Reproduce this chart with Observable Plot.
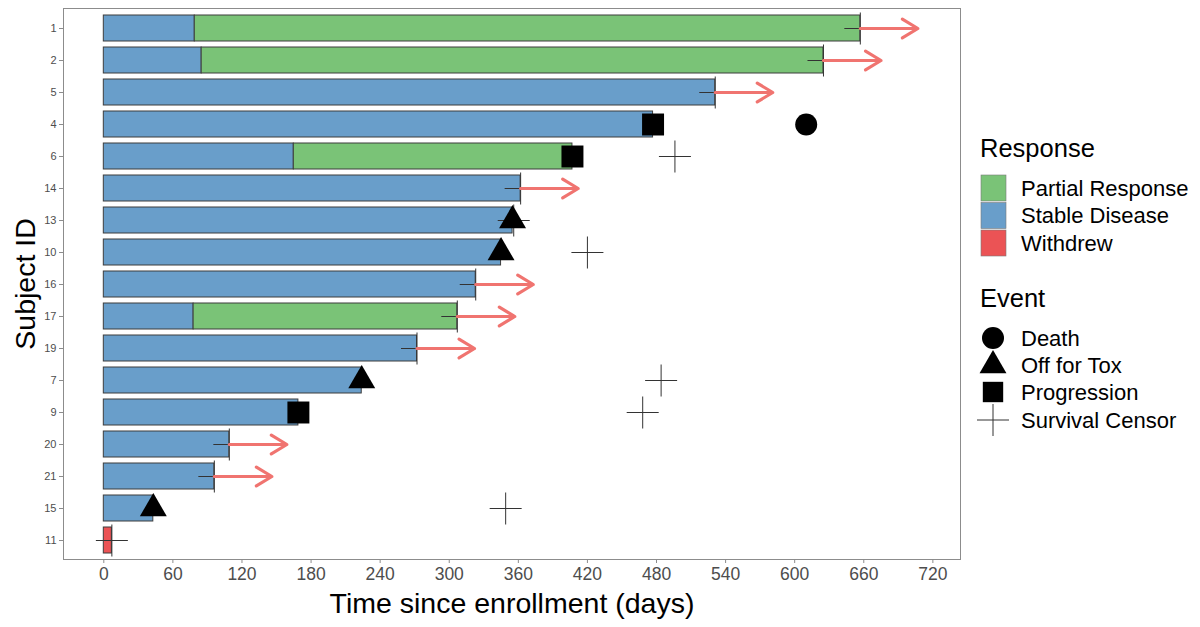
<!DOCTYPE html>
<html>
<head>
<meta charset="utf-8">
<script src="https://cdn.jsdelivr.net/npm/d3@7"></script>
<script src="https://cdn.jsdelivr.net/npm/@observablehq/plot@0.6"></script>
<style>
  html, body { margin: 0; padding: 0; background: #fff; }
  #chart { position: relative; width: 1200px; height: 627px; }
</style>
</head>
<body>
<div id="chart"></div>
<script>
// Subjects, top to bottom
const subjects = ["1", "2", "5", "4", "6", "14", "13", "10", "16", "17", "19", "7", "9", "20", "21", "15", "11"];

// Response segments (days since enrollment)
const segSubject  = ["1", "1", "2", "2", "5", "4", "6", "6", "14", "13", "10", "16", "17", "17", "19", "7", "9", "20", "21", "15", "11"];
const segResponse = ["Stable Disease", "Partial Response", "Stable Disease", "Partial Response", "Stable Disease", "Stable Disease",
                     "Stable Disease", "Partial Response", "Stable Disease", "Stable Disease", "Stable Disease", "Stable Disease",
                     "Stable Disease", "Partial Response", "Stable Disease", "Stable Disease", "Stable Disease", "Stable Disease",
                     "Stable Disease", "Stable Disease", "Withdrew"];
const segStart = [0, 79, 0, 85, 0, 0, 0, 165, 0, 0, 0, 0, 0, 78, 0, 0, 0, 0, 0, 0, 0];
const segEnd   = [79, 657, 85, 625, 531, 477, 165, 407, 362, 355, 345, 323, 78, 307, 272, 224, 169, 109, 96, 43, 7];

// Events
const eventSubject = ["4", "13", "10", "7", "15", "4", "6", "9",
                      "1", "2", "5", "6", "14", "13", "10", "16", "17", "19", "7", "9", "20", "21", "15", "11"];
const eventType = ["Death", "Off for Tox", "Off for Tox", "Off for Tox", "Off for Tox", "Progression", "Progression", "Progression",
                   "Survival Censor", "Survival Censor", "Survival Censor", "Survival Censor", "Survival Censor", "Survival Censor",
                   "Survival Censor", "Survival Censor", "Survival Censor", "Survival Censor", "Survival Censor", "Survival Censor",
                   "Survival Censor", "Survival Censor", "Survival Censor", "Survival Censor"];
const eventDay = [610, 355, 345, 224, 43, 477, 407, 169,
                  657, 625, 531, 496, 362, 356, 420, 323, 307, 272, 484, 468, 109, 96, 349, 7];

// Ongoing response arrows
const arrowSubject = ["1", "2", "5", "14", "16", "17", "19", "20", "21"];
const arrowStart   = [657, 625, 531, 362, 323, 307, 272, 109, 96];
const arrowEnd     = [707, 675, 581, 412, 373, 357, 322, 159, 146];

// Scales, ticks, palette
const xTicks = [0, 60, 120, 180, 240, 300, 360, 420, 480, 540, 600, 660, 720];
const responseTypes = ["Partial Response", "Stable Disease", "Withdrew"];
const responseColors = ["#7ac377", "#699eca", "#eb5355"];
const eventTypes = ["Death", "Off for Tox", "Progression", "Survival Censor"];

const FONT = '"Liberation Sans", Arial, Helvetica, sans-serif';

const segments = segSubject.map((s, i) => ({subject: s, response: segResponse[i], start: segStart[i], end: segEnd[i]}));
const events = eventSubject.map((s, i) => ({subject: s, type: eventType[i], day: eventDay[i]}));
const arrows = arrowSubject.map((s, i) => ({subject: s, start: arrowStart[i], end: arrowEnd[i]}));

// Open "+" glyph for censoring marks
const plusSymbol = {
  draw(context, size) {
    const r = Math.sqrt(size / Math.PI);
    context.moveTo(-r, 0); context.lineTo(r, 0);
    context.moveTo(0, -r); context.lineTo(0, r);
  }
};

const byType = (t) => events.filter((d) => d.type === t);

const svg = Plot.plot({
  width: 1200,
  height: 627,
  marginLeft: 63,
  marginRight: 240,
  marginTop: 8,
  marginBottom: 68,
  style: {fontFamily: FONT, background: "#fff", overflow: "visible"},
  x: {domain: [-35, 744]},
  y: {type: "band", domain: subjects, paddingInner: 0.2, paddingOuter: 0.18},
  color: {domain: responseTypes, range: responseColors},
  marks: [
    Plot.barX(segments, {x1: "start", x2: "end", y: "subject", fill: "response", stroke: "#3d3d3d", strokeWidth: 1}),
    Plot.dot(byType("Survival Censor"), {x: "day", y: "subject", symbol: plusSymbol, r: 16, fill: "none", stroke: "#333", strokeWidth: 1}),
    Plot.arrow(arrows, {x1: "start", x2: "end", y1: "subject", y2: "subject", stroke: "#f07470", strokeWidth: 3.2, headLength: 8.5, headAngle: 62}),
    Plot.dot(byType("Death"), {x: "day", y: "subject", symbol: "circle", r: 11, fill: "#000", stroke: null}),
    Plot.dot(byType("Off for Tox"), {x: "day", y: "subject", symbol: "triangle", r: 10, fill: "#000", stroke: null}),
    Plot.dot(byType("Progression"), {x: "day", y: "subject", symbol: "square", r: 12.4, fill: "#000", stroke: null}),
    Plot.frame({stroke: "#8c8c8c", strokeWidth: 1}),
    Plot.axisX({ticks: xTicks, tickSize: 4, tickPadding: 4, fontSize: 17.5, stroke: "#8c8c8c", fill: "#4d4d4d", label: null}),
    Plot.axisY({tickSize: 4, tickPadding: 3, fontSize: 11, stroke: "#8c8c8c", fill: "#4d4d4d", label: null}),
    Plot.text(["Time since enrollment (days)"], {frameAnchor: "bottom", lineAnchor: "middle", textAnchor: "middle", dy: 44, fontSize: 28.5, fill: "#000"}),
    Plot.text(["Subject ID"], {frameAnchor: "left", lineAnchor: "middle", textAnchor: "middle", dx: -38, rotate: -90, fontSize: 28.5, fill: "#000"})
  ]
});

document.getElementById("chart").appendChild(svg);

// Legend on the right
const lg = d3.select(svg).append("g").attr("font-family", FONT).attr("fill", "#000").attr("text-anchor", "start");
lg.append("text").attr("x", 980).attr("y", 157).attr("font-size", 25.5).text("Response");
responseTypes.forEach((t, i) => {
  const y0 = 175 + i * 27.5;
  lg.append("rect").attr("x", 981).attr("y", y0).attr("width", 25).attr("height", 26)
    .attr("fill", responseColors[i]).attr("stroke", "#7a7a7a").attr("stroke-width", 0.6);
  lg.append("text").attr("x", 1021).attr("y", y0 + 13).attr("dy", "0.35em").attr("font-size", 22).text(t);
});
lg.append("text").attr("x", 980).attr("y", 307).attr("font-size", 25.5).text("Event");
const symRow = [
  {sym: d3.symbolCircle, r: 11, y: 338},
  {sym: d3.symbolTriangle, r: 10, y: 365.5},
  {sym: d3.symbolSquare, r: 11.5, y: 392},
  {sym: plusSymbol, r: 16, y: 420}
];
eventTypes.forEach((t, i) => {
  const s = symRow[i];
  const path = d3.symbol(s.sym, Math.PI * s.r * s.r)();
  const p = lg.append("path").attr("transform", `translate(993,${s.y})`).attr("d", path);
  if (i === 3) p.attr("fill", "none").attr("stroke", "#333").attr("stroke-width", 1);
  else p.attr("fill", "#000");
  lg.append("text").attr("x", 1021).attr("y", s.y).attr("dy", "0.35em").attr("font-size", 22).text(t);
});
</script>
</body>
</html>
